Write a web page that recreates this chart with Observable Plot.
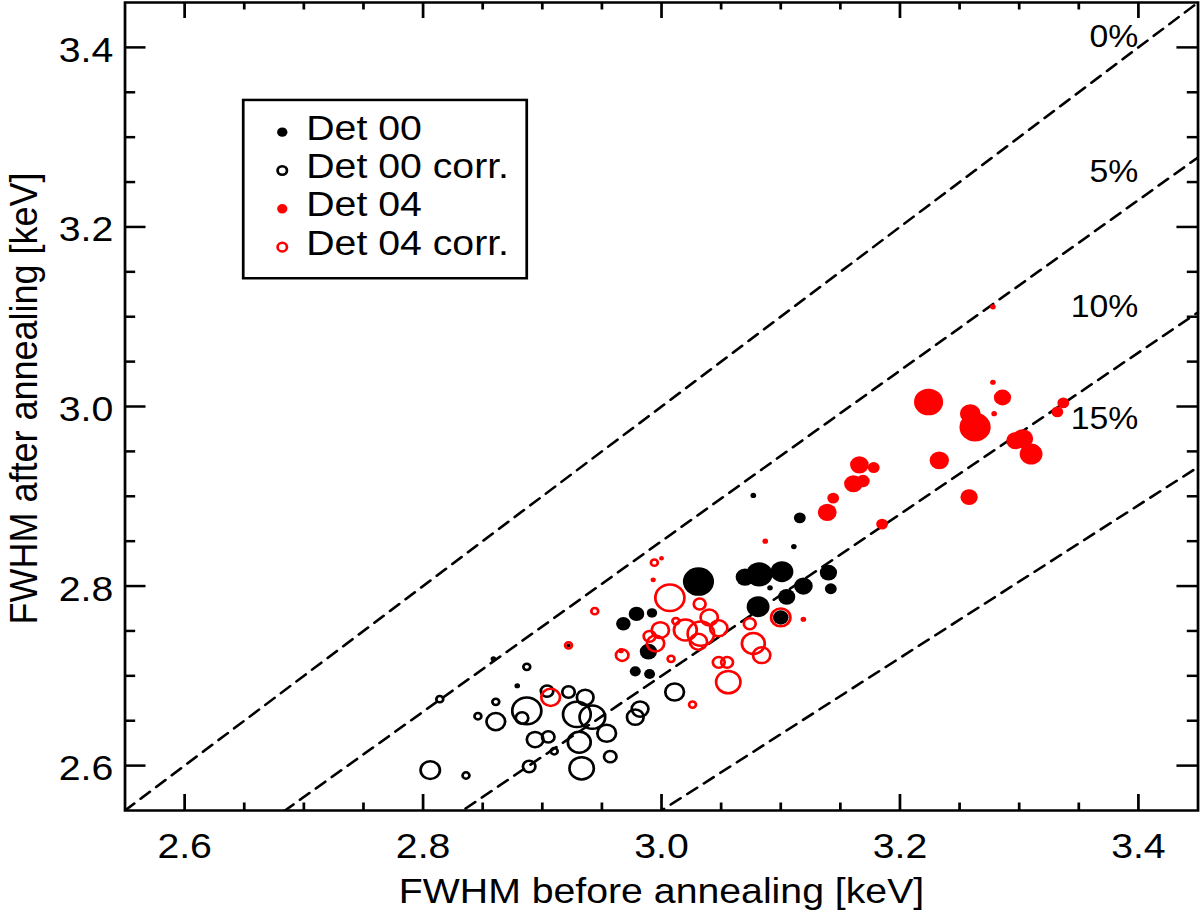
<!DOCTYPE html>
<html>
<head>
<meta charset="utf-8">
<script src="https://cdn.jsdelivr.net/npm/d3@7"></script>
<script src="https://cdn.jsdelivr.net/npm/@observablehq/plot@0.6"></script>
<style>
html, body { margin: 0; padding: 0; background: #fff; overflow: hidden; }
#chart svg { display: block; transform: scaleX(1.09); transform-origin: 0 0; }
</style>
</head>
<body>
<div id="chart"></div>
<script>
// ---- Data (FWHM before / after annealing, keV; n = relative marker weight) ----
const det00X = [2.968, 2.979, 2.992, 2.989, 2.978, 2.990, 3.031, 3.070, 3.082, 3.101, 3.119, 3.140, 3.142, 3.091, 3.105, 3.081, 3.100, 3.077, 3.116, 3.111, 2.879, 2.859, 2.922];
const det00Y = [2.758, 2.769, 2.770, 2.727, 2.705, 2.702, 2.805, 2.810, 2.813, 2.816, 2.800, 2.815, 2.797, 2.798, 2.788, 2.777, 2.765, 2.901, 2.876, 2.844, 2.689, 2.719, 2.734];
const det00N = [7, 7.5, 5, 8.3, 5.3, 5.3, 15, 9, 12.7, 11, 9, 8.3, 5.7, 2.7, 8.3, 11, 7.5, 2.7, 5.7, 2.7, 2.7, 2.7, 2];

const det00cX = [2.806, 2.814, 2.836, 2.889, 2.933, 2.957, 2.910, 2.931, 2.954, 2.905, 2.894, 2.861, 2.846, 2.861, 2.887, 2.883, 2.929, 2.942, 2.936, 2.922, 2.978, 2.982, 3.011, 2.887, 2.904];
const det00cY = [2.595, 2.674, 2.589, 2.599, 2.597, 2.610, 2.616, 2.626, 2.636, 2.632, 2.629, 2.649, 2.655, 2.671, 2.661, 2.653, 2.657, 2.654, 2.676, 2.682, 2.654, 2.663, 2.682, 2.710, 2.683];
const det00cN = [9.3, 3.3, 3.3, 6, 11.7, 6, 3.3, 11, 9, 6, 8, 9, 3.3, 3.3, 14, 6, 13.3, 12.3, 8, 6, 8, 8, 9, 3.3, 6];

const det04X = [3.087, 3.119, 2.993, 3.000, 2.966, 3.278, 3.224, 3.278, 3.286, 3.259, 3.263, 3.279, 3.337, 3.332, 3.297, 3.303, 3.310, 3.233, 3.258, 3.185, 3.166, 3.178, 3.161, 3.169, 3.144, 3.139];
const det04Y = [2.850, 2.763, 2.807, 2.831, 2.728, 3.111, 3.005, 3.027, 3.010, 2.992, 2.977, 2.992, 3.004, 2.994, 2.962, 2.964, 2.947, 2.940, 2.899, 2.869, 2.935, 2.932, 2.914, 2.917, 2.898, 2.882];
const det04N = [2.7, 2.7, 2.5, 2.3, 2.7, 2.7, 14, 2.7, 8.3, 10, 15, 2.7, 5.7, 5.7, 9, 10, 11, 9.3, 8.3, 5.7, 9, 5.7, 9, 6.5, 5.7, 9];

const det04cX = [2.944, 2.922, 2.907, 3.026, 3.008, 2.994, 3.007, 2.967, 3.032, 3.040, 3.012, 2.999, 2.990, 2.995, 3.020, 3.033, 3.031, 3.048, 3.074, 3.077, 3.084, 3.048, 3.055, 3.056, 3.100];
const det04cY = [2.772, 2.734, 2.676, 2.668, 2.719, 2.826, 2.787, 2.723, 2.780, 2.765, 2.761, 2.751, 2.744, 2.736, 2.751, 2.747, 2.738, 2.753, 2.758, 2.736, 2.723, 2.715, 2.715, 2.693, 2.765];
const det04cN = [3.3, 3.3, 9, 3.3, 3.3, 3.3, 14, 6, 5.7, 8.3, 3.3, 8.3, 5.7, 8.3, 11, 12.7, 8.3, 8.3, 5.7, 11, 8.3, 5.7, 5.7, 11.7, 9.3];

// reference lines: relative improvement (%)
const pcts = [0, 5, 10, 15];
const pctLabels = ["0%", "5%", "10%", "15%"];
const pctLabelY = [3.40, 3.25, 3.10, 2.975];
const pctLabelX = 3.4;

// axes
const axisDomain = [2.55, 3.45];
const majorTicks = [2.6, 2.8, 3.0, 3.2, 3.4];
const minorTicks = [2.65, 2.7, 2.75, 2.85, 2.9, 2.95, 3.05, 3.1, 3.15, 3.25, 3.3, 3.35];
const xTitle = "FWHM before annealing [keV]";
const yTitle = "FWHM after annealing [keV]";

// legend
const legendNames = ["Det 00", "Det 00 corr.", "Det 04", "Det 04 corr."];
const legendColors = ["black", "black", "red", "red"];
const legendFilled = [true, false, true, false];
const legendBox = {x1: 2.6496, x2: 2.8874, y1: 3.1423, y2: 3.3409};
const legendMarkerX = 2.6819, legendTextX = 2.702, legendTopY = 3.3056, legendStep = 0.0427;

// ---- build tables ----
const toRows = (X, Y, N) => X.map((x, i) => ({x, y: Y[i], n: N[i]}));
const det00 = toRows(det00X, det00Y, det00N);
const det00c = toRows(det00cX, det00cY, det00cN);
const det04 = toRows(det04X, det04Y, det04N);
const det04c = toRows(det04cX, det04cY, det04cN);
const refLines = pcts.flatMap(p => axisDomain.map(x => ({p, x, y: x * (1 - p / 100)})));
const pctText = pctLabels.map((t, i) => ({t, x: pctLabelX, y: pctLabelY[i]}));
const legendRows = legendNames.map((name, i) => ({
  name, color: legendColors[i], filled: legendFilled[i],
  x: legendMarkerX, tx: legendTextX, y: legendTopY - i * legendStep
}));

// ---- layout (pre-stretch pixels) ----
const W = 1101, H = 911;
const mL = 114.2, mR = 2.4, mT = 2, mB = 101;
const plotW = W - mL - mR, plotH = H - mT - mB;
const font = "'Liberation Sans', Arial, Helvetica, sans-serif";
const lw = 2.5;
const xMajLen = 16, xMinLen = 7.5, yMajLen = 19.3, yMinLen = 9.8;

const chart = Plot.plot({
  width: W, height: H,
  marginLeft: mL, marginRight: mR, marginTop: mT, marginBottom: mB,
  x: {domain: axisDomain, axis: null},
  y: {domain: axisDomain, axis: null},
  r: {type: "linear", domain: [0, 15], range: [0, 14.3]},
  style: {fontFamily: font, background: "white", color: "black"},
  marks: [
    Plot.line(refLines, {x: "x", y: "y", z: "p", stroke: "black", strokeWidth: lw, strokeDasharray: "11,7.5", clip: true}),
    Plot.dot(det00, {x: "x", y: "y", r: "n", fill: "black", stroke: "none"}),
    Plot.dot(det00c, {x: "x", y: "y", r: "n", fill: "none", stroke: "black", strokeWidth: lw}),
    Plot.dot(det04, {x: "x", y: "y", r: "n", fill: "red", stroke: "none"}),
    Plot.dot(det04c, {x: "x", y: "y", r: "n", fill: "none", stroke: "red", strokeWidth: lw}),
    Plot.frame({stroke: "black", strokeWidth: lw}),
    // inward ticks on all four sides
    Plot.ruleX(majorTicks, {x: d => d, insetTop: plotH - xMajLen, stroke: "black", strokeWidth: lw}),
    Plot.ruleX(majorTicks, {x: d => d, insetBottom: plotH - xMajLen, stroke: "black", strokeWidth: lw}),
    Plot.ruleX(minorTicks, {x: d => d, insetTop: plotH - xMinLen, stroke: "black", strokeWidth: lw}),
    Plot.ruleX(minorTicks, {x: d => d, insetBottom: plotH - xMinLen, stroke: "black", strokeWidth: lw}),
    Plot.ruleY(majorTicks, {y: d => d, insetRight: plotW - yMajLen, stroke: "black", strokeWidth: lw}),
    Plot.ruleY(majorTicks, {y: d => d, insetLeft: plotW - yMajLen, stroke: "black", strokeWidth: lw}),
    Plot.ruleY(minorTicks, {y: d => d, insetRight: plotW - yMinLen, stroke: "black", strokeWidth: lw}),
    Plot.ruleY(minorTicks, {y: d => d, insetLeft: plotW - yMinLen, stroke: "black", strokeWidth: lw}),
    // tick labels
    Plot.text(majorTicks, {x: d => d, frameAnchor: "bottom", lineAnchor: "top", dy: 22, text: d => d.toFixed(1), fontSize: 36, fill: "black"}),
    Plot.text(majorTicks, {y: d => d, frameAnchor: "left", textAnchor: "end", lineAnchor: "middle", dx: -10.8, dy: 3, text: d => d.toFixed(1), fontSize: 36, fill: "black"}),
    // axis titles
    Plot.text([xTitle], {frameAnchor: "bottom", textAnchor: "middle", lineAnchor: "bottom", dy: 92, text: d => d, fontSize: 36, fill: "black"}),
    Plot.text([yTitle], {frameAnchor: "left", rotate: -90, textAnchor: "middle", lineAnchor: "bottom", dx: -81, dy: -8, text: d => d, fontSize: 36, fill: "black"}),
    // percentage labels
    Plot.text(pctText, {x: "x", y: "y", text: "t", textAnchor: "end", lineAnchor: "bottom", fontSize: 31, fill: "black"}),
    // legend
    Plot.rect([legendBox], {x1: "x1", x2: "x2", y1: "y1", y2: "y2", fill: "white", stroke: "black", strokeWidth: lw}),
    Plot.dot(legendRows.filter(d => d.filled), {x: "x", y: "y", r: 4.7, fill: "color", stroke: "none"}),
    Plot.dot(legendRows.filter(d => !d.filled), {x: "x", y: "y", r: 4.3, fill: "none", stroke: "color", strokeWidth: lw}),
    Plot.text(legendRows, {x: "tx", y: "y", text: "name", textAnchor: "start", lineAnchor: "middle", dy: -4, fontSize: 36, fill: "black"})
  ]
});
document.getElementById("chart").appendChild(chart);
</script>
</body>
</html>
